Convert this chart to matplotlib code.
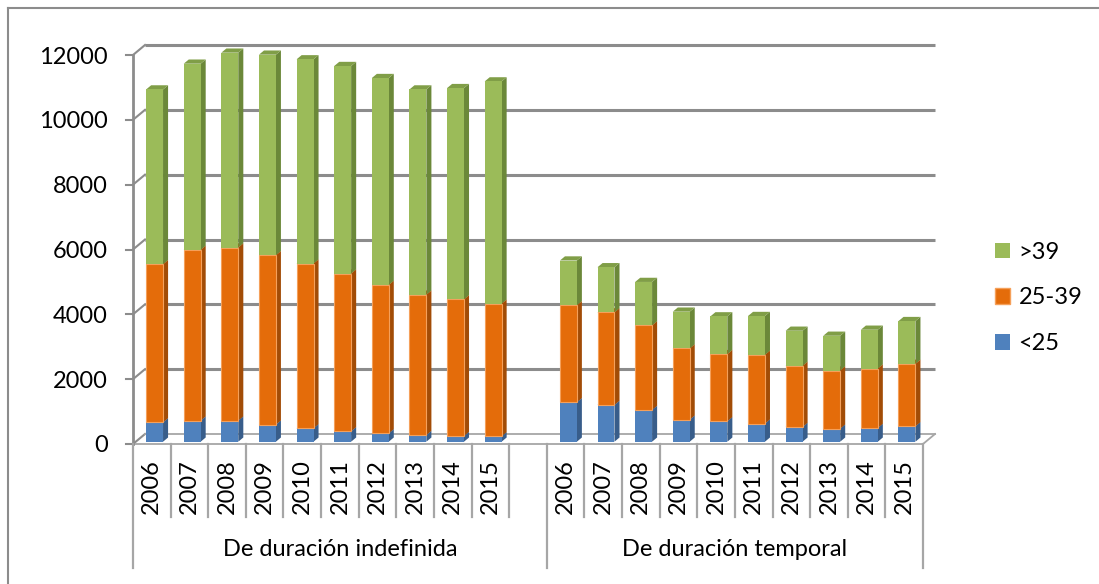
import matplotlib
matplotlib.use('Agg')
import matplotlib.pyplot as plt
from matplotlib.patches import Polygon, Rectangle, Patch
from matplotlib.lines import Line2D

plt.rcParams['font.family'] = ['Lato', 'DejaVu Sans']

years = ['2006', '2007', '2008', '2009', '2010', '2011', '2012', '2013', '2014', '2015']
groups = ['De duración indefinida', 'De duración temporal']
series = ['<25', '25-39', '>39']

# values
indef_lt25 = [597, 650, 650, 526, 412, 320, 258, 206, 175, 165]
indef_25_39 = [4878, 5267, 5340, 5227, 5084, 4867, 4578, 4330, 4217, 4093]
indef_gt39 = [5391, 5744, 6011, 6186, 6299, 6402, 6382, 6330, 6516, 6856]
temp_lt25 = [1217, 1134, 980, 680, 629, 557, 454, 402, 423, 474]
temp_25_39 = [2990, 2856, 2608, 2197, 2072, 2123, 1887, 1794, 1835, 1929]
temp_gt39 = [1382, 1392, 1340, 1134, 1165, 1197, 1082, 1072, 1196, 1318]

yticks = [0, 2000, 4000, 6000, 8000, 10000, 12000]

front = {'<25': '#4F81BD', '25-39': '#E46C0A', '>39': '#9BBB59'}
side = {'<25': '#385D8A', '25-39': '#A24C06', '>39': '#6B8839'}
top = {'<25': '#44709F', '25-39': '#C85F08', '>39': '#809E47'}

FS = 17

W, H = 1099, 584
fig = plt.figure(figsize=(W / 100, H / 100), dpi=100)
# front plane: x 133..923 px, y 444..55 px
ax = fig.add_axes([133 / W, 1 - 444 / H, 790 / W, 389 / H])
nslots = 21
ax.set_xlim(0, nslots)
ax.set_ylim(0, 12000)
for s in ax.spines.values():
    s.set_visible(False)
ax.set_xticks([])
ax.set_yticks(yticks)
ax.set_yticklabels([str(v) for v in yticks], fontsize=FS)
ax.tick_params(axis='y', length=0, pad=18)

px_x = nslots / 790
px_y = 12000 / 389
DX, DY = 12 * px_x, 10 * px_y   # full depth offset of the 3d box

grid_c = '#8C8C8C'
# back wall gridlines and diagonals
for v in yticks:
    if v > 0:
        ax.plot([DX, nslots + DX], [v + DY, v + DY], color=grid_c, lw=2.2,
                clip_on=False, zorder=1, solid_capstyle='butt')
    ax.plot([0, DX], [v, v + DY], color=grid_c, lw=1.5, clip_on=False, zorder=1)
    ax.plot([-7 * px_x, 0], [v, v], color=grid_c, lw=1.5, clip_on=False, zorder=1)
# floor
floor_c = '#A6A6A6'
ax.plot([0, nslots], [0, 0], color=floor_c, lw=1.3, clip_on=False, zorder=1)
ax.plot([DX, nslots + DX], [DY, DY], color=floor_c, lw=1.3, clip_on=False, zorder=1)
ax.plot([nslots, nslots + DX], [0, DY], color=floor_c, lw=1.3, clip_on=False, zorder=1)
# front value axis
ax.plot([0, 0], [0, 12000], color=grid_c, lw=2, clip_on=False, zorder=1)

# bars
w = 0.45
d0, dd = 0.23, 0.42
def draw_bar(slot, vals):
    x0 = slot + 0.5 - w / 2 + d0 * DX
    y = d0 * DY
    for name, v in zip(series, vals):
        y1 = y + v
        ec = '#F5A05A' if name == '25-39' else 'none'
        ax.add_patch(Polygon([(x0 + w, y), (x0 + w + dd * DX, y + dd * DY),
                              (x0 + w + dd * DX, y1 + dd * DY), (x0 + w, y1)],
                             closed=True, fc=side[name], ec='none', zorder=2, clip_on=False))
        ax.add_patch(Polygon([(x0, y1), (x0 + w, y1), (x0 + w + dd * DX, y1 + dd * DY),
                              (x0 + dd * DX, y1 + dd * DY)],
                             closed=True, fc=top[name], ec='none', zorder=2, clip_on=False))
        ax.add_patch(Rectangle((x0, y), w, v, fc=front[name], ec=ec, lw=0.8,
                               zorder=3, clip_on=False))
        y = y1

for i in range(len(years)):
    draw_bar(i, [indef_lt25[i], indef_25_39[i], indef_gt39[i]])
    draw_bar(i + 11, [temp_lt25[i], temp_25_39[i], temp_gt39[i]])

# category axis (two levels)
cat_c = '#A6A6A6'
for k in range(nslots + 1):
    low = 124 if k in (0, 11, nslots) else 73
    ax.plot([k, k], [0, -low * px_y], color=cat_c, lw=1.6, clip_on=False)
for i, yr in enumerate(years):
    for start in (0, 11):
        ax.text(start + i + 0.5, -43 * px_y, yr, rotation=90, ha='center', va='center',
                fontsize=FS, clip_on=False)
ax.text(5.5, -105 * px_y, groups[0], ha='center', va='center', fontsize=FS)
ax.text(16.0, -105 * px_y, groups[1], ha='center', va='center', fontsize=FS)

# legend
handles = [Patch(fc=front['>39'], ec='none'),
           Patch(fc=front['25-39'], ec='#F5A05A'),
           Patch(fc=front['<25'], ec='none')]
fig.legend(handles, ['>39', '25-39', '<25'], loc='center left',
           bbox_to_anchor=(995 / W, 1 - 298 / H), frameon=False, fontsize=FS,
           handlelength=0.65, handleheight=0.65, handletextpad=0.35,
           labelspacing=1.05, borderpad=0, borderaxespad=0)

# chart border (left and top visible in the crop)
fig.add_artist(Line2D([8 / W, 8 / W], [0, 1 - 8 / H], color='#8C8C8C', lw=1.5))
fig.add_artist(Line2D([8 / W, 1], [1 - 8 / H, 1 - 8 / H], color='#8C8C8C', lw=1.5))

fig.savefig('out.png', dpi=100)
